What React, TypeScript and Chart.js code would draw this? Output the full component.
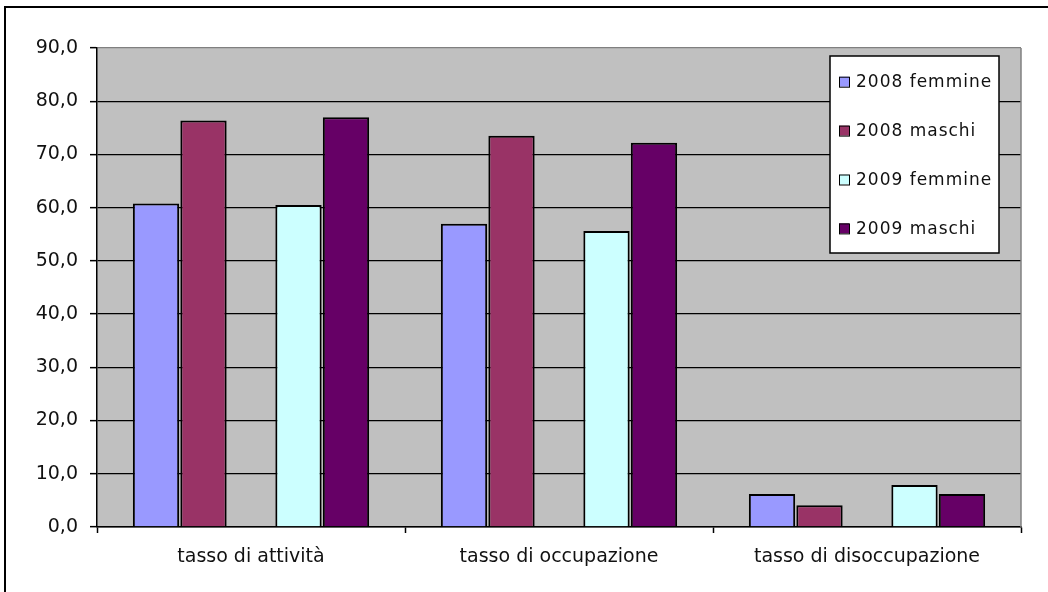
import { useEffect, useRef } from "react";
import { Chart, registerables } from "chart.js";

Chart.register(...registerables);

// Labour-market rates by sex, 2008 vs 2009 (percent)
const categories = ["tasso di attività", "tasso di occupazione", "tasso di disoccupazione"];
const femmine2008 = [60.8, 57.0, 6.2];
const maschi2008 = [76.4, 73.5, 4.1];
const femmine2009 = [60.5, 55.6, 7.9];
const maschi2009 = [77.0, 72.2, 6.2];
const seriesLabels = ["2008 femmine", "2008 maschi", "2009 femmine", "2009 maschi"];
const seriesColors = ["#9999FF", "#993366", "#CCFFFF", "#660066"];
const yMin = 0;
const yMax = 90;
const yStep = 10;

const AXIS_FONT = { family: "'DejaVu Sans', Verdana, sans-serif", size: 19 };
const LEGEND_FONT = "17px 'DejaVu Sans', Verdana, sans-serif";
const TEXT_COLOR = "#111111";

// Paints the page frame, the grey plot area and the boxed legend.
const decorPlugin = {
  id: "decor",
  beforeDraw(chart: any) {
    const { ctx, chartArea: a, width, height } = chart;
    ctx.save();
    ctx.fillStyle = "#ffffff";
    ctx.fillRect(0, 0, width, height);
    ctx.fillStyle = "#C0C0C0";
    ctx.fillRect(a.left, a.top, a.right - a.left, a.bottom - a.top);
    ctx.strokeStyle = "#000000";
    ctx.lineWidth = 2;
    ctx.beginPath();
    ctx.moveTo(5, height + 2);
    ctx.lineTo(5, 7);
    ctx.lineTo(width + 2, 7);
    ctx.stroke();
    ctx.restore();
  },
  beforeDatasetsDraw(chart: any) {
    const { ctx, chartArea: a } = chart;
    ctx.save();
    ctx.strokeStyle = "#808080";
    ctx.lineWidth = 1.5;
    ctx.beginPath();
    ctx.moveTo(a.right, a.top);
    ctx.lineTo(a.right, a.bottom);
    ctx.stroke();
    ctx.restore();
  },
  afterDraw(chart: any) {
    const { ctx, chartArea: a } = chart;
    const boxLeft = a.right - 191;
    const boxTop = a.top + 8;
    const boxW = 169;
    const boxH = 197;
    ctx.save();
    ctx.fillStyle = "#ffffff";
    ctx.fillRect(boxLeft, boxTop, boxW, boxH);
    ctx.strokeStyle = "#000000";
    ctx.lineWidth = 1.5;
    ctx.strokeRect(boxLeft, boxTop, boxW, boxH);
    ctx.font = LEGEND_FONT;
    ctx.textBaseline = "middle";
    ctx.textAlign = "left";
    (ctx as any).letterSpacing = "1px";
    const items = chart.data.datasets.filter((d: any) => d.label);
    items.forEach((d: any, i: number) => {
      const cy = a.top + 33.7 + i * 48.9;
      ctx.fillStyle = d.backgroundColor;
      ctx.fillRect(boxLeft + 9, cy - 5, 10, 10);
      ctx.strokeStyle = "#000000";
      ctx.lineWidth = 1;
      ctx.strokeRect(boxLeft + 9.5, cy - 4.5, 10, 10);
      ctx.fillStyle = TEXT_COLOR;
      ctx.fillText(d.label, boxLeft + 26, cy + 1);
    });
    ctx.restore();
  },
};

export default function App() {
  const canvasRef = useRef<HTMLCanvasElement | null>(null);

  useEffect(() => {
    document.body.style.margin = "0";
    const canvas = canvasRef.current;
    if (!canvas) return;

    const bar = (label: string, data: (number | null)[], color: string) => ({
      label,
      data,
      backgroundColor: color,
      borderColor: "#000000",
      borderWidth: 2,
      barPercentage: 0.975,
      categoryPercentage: 0.771,
    });

    const chart = new Chart(canvas, {
      type: "bar",
      data: {
        labels: categories,
        datasets: [
          bar(seriesLabels[0], femmine2008, seriesColors[0]),
          bar(seriesLabels[1], maschi2008, seriesColors[1]),
          // empty slot separating the two years inside each group
          bar("", categories.map(() => null), "rgba(0,0,0,0)"),
          bar(seriesLabels[2], femmine2009, seriesColors[2]),
          bar(seriesLabels[3], maschi2009, seriesColors[3]),
        ],
      },
      options: {
        responsive: false,
        animation: false,
        devicePixelRatio: 1,
        layout: { padding: { top: 48, right: 27, bottom: 0, left: 0 } },
        plugins: {
          legend: { display: false },
          tooltip: { enabled: false },
        },
        scales: {
          x: {
            grid: {
              offset: true,
              drawOnChartArea: false,
              drawTicks: true,
              tickLength: 6,
              tickColor: "#000000",
              tickWidth: 1.5,
            },
            border: { color: "#000000", width: 1.5 },
            ticks: { color: TEXT_COLOR, font: AXIS_FONT, padding: 13, maxRotation: 0 },
            afterFit(scale: any) {
              scale.height = 65;
            },
          },
          y: {
            min: yMin,
            max: yMax,
            grid: {
              color: (c: any) => (c.tick && c.tick.value === yMax ? "#808080" : "#000000"),
              lineWidth: 1.3,
              drawTicks: true,
              tickLength: 7,
              tickColor: "#000000",
              tickWidth: 1.5,
            },
            border: { color: "#000000", width: 1.5 },
            ticks: {
              stepSize: yStep,
              color: TEXT_COLOR,
              font: AXIS_FONT,
              padding: 12,
              callback: (v: any) => Number(v).toFixed(1).replace(".", ","),
            },
            afterFit(scale: any) {
              scale.width = 97;
            },
          },
        },
      },
      plugins: [decorPlugin],
    });

    return () => chart.destroy();
  }, []);

  return <canvas ref={canvasRef} width={1048} height={592} style={{ display: "block" }} />;
}
